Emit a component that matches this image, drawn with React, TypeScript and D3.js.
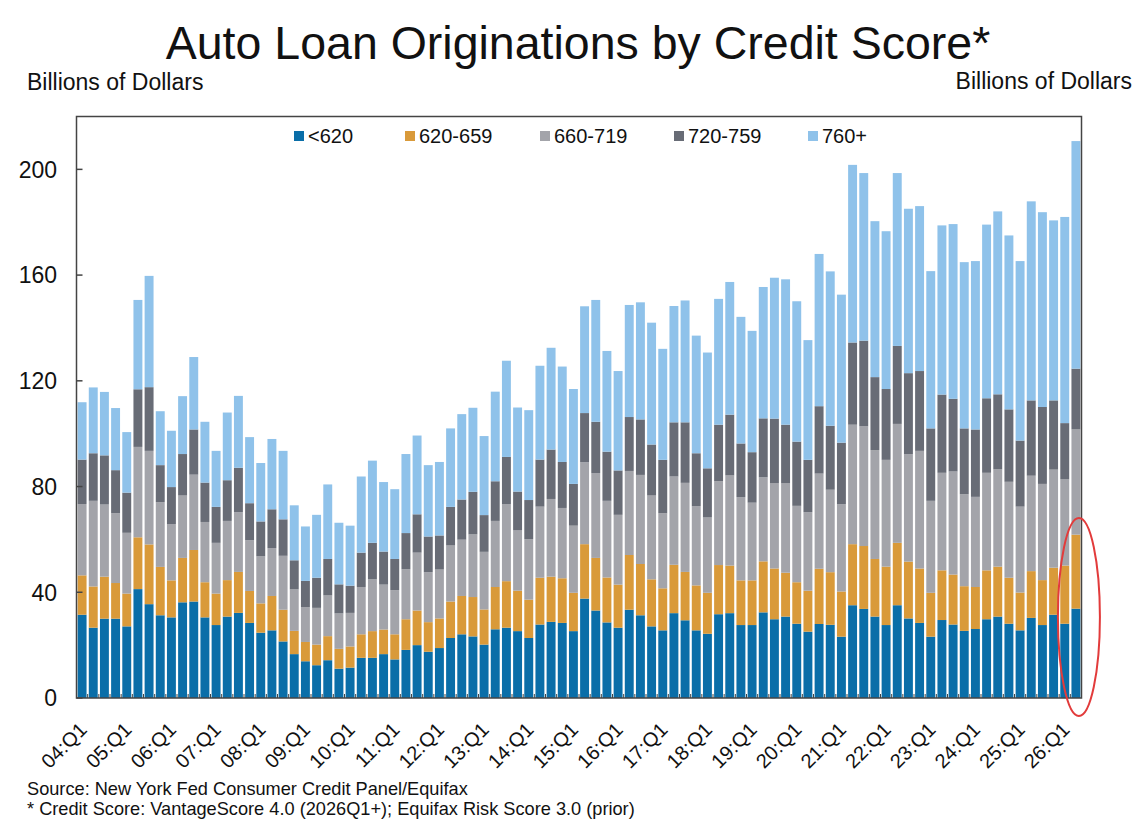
import React from 'react';
import * as d3 from 'd3';

// Billions of dollars per quarter, 04:Q1 onward
const under620 = [
    31.5, 26.6, 30.0, 30.0, 27.1, 41.2, 35.5, 31.3, 30.5, 36.2,
    36.5, 30.5, 27.6, 30.8, 32.2, 28.4, 24.7, 25.6, 21.4, 16.6,
    13.9, 12.4, 14.3, 11.1, 11.5, 15.2, 15.2, 16.6, 14.6, 18.2,
    20.0, 17.5, 18.9, 22.7, 24.1, 23.3, 20.2, 26.0, 26.6, 25.3,
    22.7, 27.8, 28.8, 28.4, 25.3, 37.6, 33.1, 28.6, 26.6, 33.4,
    31.3, 27.1, 25.6, 32.1, 29.4, 25.6, 24.3, 31.7, 32.1, 27.6,
    27.6, 32.4, 29.8, 30.8, 28.1, 25.1, 28.0, 27.7, 23.2, 35.1,
    33.7, 30.8, 27.6, 35.1, 30.1, 28.4, 23.2, 29.5, 27.8, 25.4,
    26.1, 29.8, 30.8, 28.1, 25.6, 30.3, 27.6, 31.5, 28.1, 33.8
];
const from620to659 = [
    14.9, 15.6, 15.9, 13.5, 12.4, 19.6, 22.6, 18.3, 14.0, 16.8,
    19.5, 13.3, 11.9, 13.8, 15.5, 12.1, 11.1, 13.0, 12.0, 8.8,
    7.3, 7.8, 9.1, 7.5, 8.0, 8.9, 10.1, 9.3, 9.5, 11.6,
    13.1, 11.2, 11.2, 13.8, 14.5, 14.9, 13.3, 16.0, 17.6, 15.3,
    14.5, 17.7, 17.1, 16.9, 14.5, 20.6, 19.9, 17.0, 16.3, 20.7,
    19.4, 17.8, 15.9, 18.3, 18.3, 17.0, 15.5, 18.6, 18.0, 16.9,
    16.9, 19.3, 19.2, 16.6, 15.7, 15.5, 20.9, 19.9, 17.1, 23.1,
    23.8, 21.8, 22.1, 23.6, 21.5, 20.6, 16.6, 18.8, 18.9, 16.9,
    15.9, 18.5, 18.9, 17.4, 14.3, 17.7, 17.0, 17.8, 22.0, 28.0
];
const from660to719 = [
    27.0, 32.4, 27.3, 26.4, 23.0, 34.2, 35.4, 24.5, 21.3, 23.6,
    28.5, 22.8, 19.2, 22.4, 22.6, 19.2, 17.8, 18.1, 20.4, 15.7,
    13.2, 13.9, 15.4, 13.4, 12.7, 17.9, 19.6, 17.0, 16.7, 18.9,
    21.9, 18.9, 18.5, 21.2, 21.3, 23.7, 21.8, 25.0, 29.2, 22.8,
    22.9, 26.9, 29.4, 26.6, 25.4, 31.0, 32.1, 29.0, 26.4, 31.8,
    33.7, 31.7, 28.4, 33.4, 33.7, 30.0, 28.5, 31.7, 34.1, 31.5,
    29.4, 31.8, 32.2, 33.8, 28.9, 29.7, 36.0, 31.2, 33.0, 45.2,
    45.3, 41.2, 40.4, 45.0, 40.6, 44.5, 34.8, 36.9, 39.0, 34.8,
    34.1, 36.9, 36.8, 36.3, 32.5, 36.1, 36.4, 37.1, 32.6, 39.8
];
const from720to759 = [
    16.8, 18.0, 18.6, 16.3, 15.2, 21.8, 24.1, 14.0, 14.0, 15.7,
    17.1, 14.9, 13.6, 15.4, 16.8, 14.0, 13.2, 14.7, 13.8, 11.0,
    9.9, 11.4, 13.8, 11.0, 10.3, 13.0, 13.8, 12.5, 11.8, 13.7,
    14.5, 13.5, 12.9, 14.6, 15.2, 16.1, 13.9, 15.0, 17.8, 14.7,
    14.8, 17.8, 18.7, 17.4, 15.8, 18.6, 19.4, 18.6, 16.8, 20.4,
    21.0, 19.3, 20.2, 20.5, 22.9, 20.0, 18.6, 21.4, 23.0, 20.3,
    19.1, 22.3, 24.5, 22.2, 24.3, 19.8, 25.5, 24.2, 23.3, 31.1,
    32.4, 27.6, 26.8, 29.5, 30.7, 30.2, 27.4, 29.6, 27.5, 24.9,
    25.5, 28.2, 28.4, 27.4, 25.0, 28.5, 29.1, 26.2, 21.3, 23.0
];
const over760 = [
    21.7, 24.9, 24.0, 23.5, 22.9, 33.8, 42.1, 20.4, 21.3, 21.9,
    27.4, 23.0, 21.2, 25.6, 27.2, 25.0, 22.1, 26.6, 25.9, 20.8,
    20.6, 23.8, 28.2, 23.3, 22.7, 28.8, 31.1, 26.3, 26.4, 29.9,
    29.8, 27.0, 27.8, 29.7, 32.3, 31.8, 29.9, 33.9, 36.4, 31.8,
    34.0, 35.5, 38.5, 36.1, 35.9, 40.4, 46.1, 38.1, 37.6, 42.4,
    44.3, 46.1, 42.0, 44.0, 46.1, 44.5, 43.8, 47.6, 50.2, 47.9,
    45.9, 49.7, 53.3, 55.0, 53.1, 45.3, 57.6, 58.4, 56.0, 67.2,
    63.4, 59.0, 59.7, 65.4, 62.2, 62.4, 59.5, 64.0, 66.1, 62.9,
    63.7, 65.7, 69.2, 65.8, 67.9, 75.3, 73.7, 68.1, 78.0, 86.1
];

const seriesNames = ['<620', '620-659', '660-719', '720-759', '760+'];
const seriesColors = ['#0a6ea8', '#d99a3a', '#a3a4aa', '#686c76', '#8fc2ea'];
const seriesValues = [under620, from620to659, from660to719, from720to759, over760];

const quarters = under620.map((_, i) =>
    `${String(4 + Math.floor(i / 4)).padStart(2, '0')}:Q${(i % 4) + 1}`);

const tickLabels = [
    '04:Q1', '05:Q1', '06:Q1', '07:Q1', '08:Q1', '09:Q1', '10:Q1', '11:Q1',
    '12:Q1', '13:Q1', '14:Q1', '15:Q1', '16:Q1', '17:Q1', '18:Q1', '19:Q1',
    '20:Q1', '21:Q1', '22:Q1', '23:Q1', '24:Q1', '25:Q1', '26:Q1'
];
const yTicks = [0, 40, 80, 120, 160, 200];

const FONT = "'Liberation Sans', Arial, sans-serif";

const App: React.FC = () => {
    const width = 1144;
    const height = 831;
    const plot = {left: 76.5, right: 1081.5, top: 116.5, bottom: 698};

    const x = d3.scaleBand<string>()
        .domain(quarters)
        .range([plot.left, plot.right])
        .paddingInner(0.2)
        .paddingOuter(0.1);

    const y = d3.scaleLinear()
        .domain([0, 220])
        .range([plot.bottom, plot.top]);

    const rows = quarters.map((q, i) => {
        const row: Record<string, any> = {quarter: q};
        seriesNames.forEach((name, s) => { row[name] = seriesValues[s][i]; });
        return row;
    });
    const stacked = d3.stack<any>().keys(seriesNames)(rows);

    const legendX = [294, 405, 540, 674, 808];
    const last = quarters[quarters.length - 1];
    const lastCx = (x(last) ?? 0) + x.bandwidth() / 2;

    return (
        <svg width={width} height={height}
             style={{position: 'absolute', left: 0, top: 0, background: '#fff'}}
             fontFamily={FONT}>
            <text x={578} y={59} textAnchor="middle" fontSize={46.5} fill="#111">
                Auto Loan Originations by Credit Score*
            </text>
            <text x={27} y={90} fontSize={23} fill="#111">Billions of Dollars</text>
            <text x={1132} y={89} fontSize={23} fill="#111" textAnchor="end">Billions of Dollars</text>

            {/* stacked bars */}
            {stacked.map((layer, s) => (
                <g key={seriesNames[s]} fill={seriesColors[s]}>
                    {layer.map((d, i) => (
                        <rect key={i}
                              x={x(quarters[i])}
                              y={y(d[1])}
                              width={x.bandwidth()}
                              height={y(d[0]) - y(d[1])}/>
                    ))}
                </g>
            ))}

            {/* x ticks between categories */}
            <g stroke="#444" strokeWidth={1}>
                {quarters.slice(1).map((q, i) => {
                    const xx = (x(q) ?? 0) - x.step() * x.paddingInner() / 2;
                    return <line key={i} x1={xx} x2={xx} y1={plot.bottom} y2={plot.bottom - 4}/>;
                })}
            </g>

            {/* frame */}
            <rect x={plot.left} y={plot.top} width={plot.right - plot.left}
                  height={plot.bottom - plot.top} fill="none" stroke="#444" strokeWidth={1.5}/>

            {/* y axis */}
            {yTicks.map(t => (
                <g key={t}>
                    <line x1={plot.left} x2={plot.left + 6} y1={y(t)} y2={y(t)} stroke="#444" strokeWidth={1.5}/>
                    <text x={57} y={y(t)} dy="0.36em" textAnchor="end" fontSize={23} fill="#111">{t}</text>
                </g>
            ))}

            {/* x labels */}
            {tickLabels.map(lbl => {
                const cx = (x(lbl) ?? 0) + x.bandwidth() / 2;
                return (
                    <text key={lbl} transform={`translate(${cx + 6},731) rotate(-45)`}
                          textAnchor="end" fontSize={20} fill="#111">{lbl}</text>
                );
            })}

            {/* legend */}
            {seriesNames.map((name, s) => (
                <g key={name} transform={`translate(${legendX[s]},136)`}>
                    <rect x={0} y={-5} width={10} height={10} fill={seriesColors[s]}/>
                    <text x={14} y={0} dy="0.36em" fontSize={20} fill="#111">{name}</text>
                </g>
            ))}

            {/* highlight of the latest quarter */}
            <ellipse cx={lastCx + 3} cy={617} rx={21} ry={99} fill="none" stroke="#e23b3b" strokeWidth={2}/>

            <text x={27} y={795} fontSize={18.2} fill="#111">Source: New York Fed Consumer Credit Panel/Equifax</text>
            <text x={27} y={815} fontSize={18.2} fill="#111">* Credit Score: VantageScore 4.0 (2026Q1+); Equifax Risk Score 3.0 (prior)</text>
        </svg>
    );
};

export default App;
